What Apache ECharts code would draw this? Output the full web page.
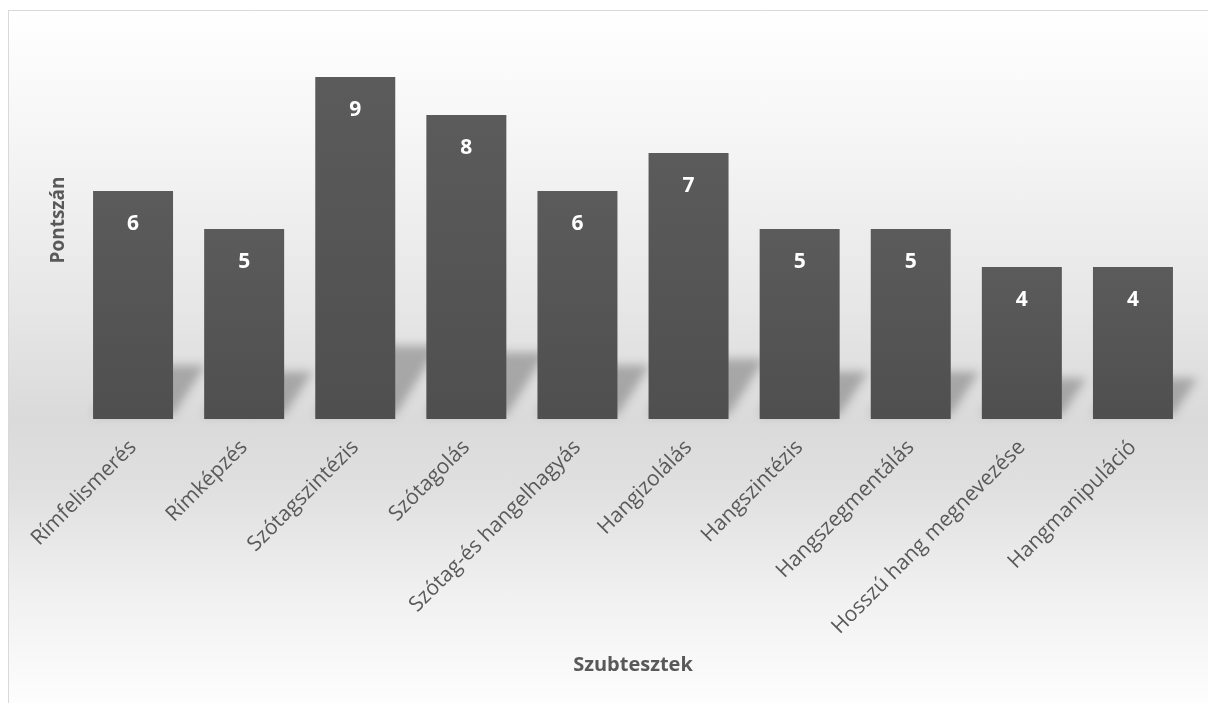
<!DOCTYPE html>
<html>
<head>
<meta charset="utf-8">
<script src="https://cdn.jsdelivr.net/npm/echarts@6/dist/echarts.min.js"></script>
<style>
html,body{margin:0;padding:0;background:#fff;}
#frame{position:absolute;left:8px;top:10px;width:1220px;height:720px;border:1px solid #d9d9d9;
background:linear-gradient(to bottom,#ffffff 0px,#f6f6f6 120px,#e6e6e6 300px,#dadada 410px,#e0e0e0 480px,#f0f0f0 580px,#fdfdfd 690px);}
#chart{position:absolute;left:0;top:0;width:1208px;height:703px;}
</style>
</head>
<body>
<div id="frame"></div>
<div id="chart"></div>
<script>
const categories = ['Rímfelismerés','Rímképzés','Szótagszintézis','Szótagolás','Szótag-és hangelhagyás','Hangizolálás','Hangszintézis','Hangszegmentálás','Hosszú hang megnevezése','Hangmanipuláció'];
const scores = [6,5,9,8,6,7,5,5,4,4];
const xAxisTitle = 'Szubtesztek';
const yAxisTitle = 'Pontszán';

const FONT = '"Open Sans", "Noto Sans", sans-serif';
const chart = echarts.init(document.getElementById('chart'), null, {renderer:'canvas'});

const barWidthRatio = 0.72;
const SHIFT = 3000;

chart.setOption({
  backgroundColor: 'transparent',
  animation: false,
  grid: {left: 77.5, right: 19.5, top: 39, bottom: 284, containLabel: false},
  xAxis: {
    type: 'category',
    data: categories,
    axisLine: {show: false},
    axisTick: {show: false},
    axisLabel: {rotate: 45, color: '#595959', fontFamily: FONT, fontSize: 21, margin: 25, interval: 0},
    name: xAxisTitle,
    nameLocation: 'middle',
    nameGap: 236,
    nameTextStyle: {color: '#595959', fontFamily: FONT, fontSize: 20, fontWeight: 'bold'}
  },
  yAxis: {
    type: 'value',
    min: 0, max: 10, interval: 1,
    axisLine: {show: false},
    axisTick: {show: false},
    axisLabel: {show: false},
    splitLine: {show: false},
    name: yAxisTitle,
    nameLocation: 'middle',
    nameGap: 9,
    nameRotate: 90,
    nameTextStyle: {color: '#595959', fontFamily: FONT, fontSize: 19, fontWeight: 'bold', padding:[0,0,0,18]}
  },
  series: [
    {
      type: 'custom',
      z: 1,
      silent: true,
      clip: false,
      data: scores.map((v,i)=>[i,v]),
      renderItem: function(params, api){
        const base = api.coord([api.value(0), 0]);
        const top = api.coord([api.value(0), api.value(1)]);
        const band = api.size([1,0])[0];
        const bw = band*barWidthRatio;
        const x0 = base[0]-bw/2 - SHIFT, x1 = base[0]+bw/2 - SHIFT;
        const hb = base[1]-top[1];
        const sh = 15 + 0.17*hb;
        const s = 0.6*sh;
        return {
          type: 'polygon',
          shape: {points: [[x0, base[1]-4],[x1, base[1]-4],[x1+s, base[1]-sh],[x0+s, base[1]-sh]]},
          style: {fill: '#000', shadowBlur: 10, shadowColor: 'rgba(60,60,60,0.34)', shadowOffsetX: SHIFT, shadowOffsetY: 0}
        };
      }
    },
    {
      type: 'bar',
      z: 2,
      data: scores,
      barCategoryGap: '28%',
      itemStyle: {
        color: new echarts.graphic.LinearGradient(0,0,0,1,[{offset:0,color:'#5b5b5b'},{offset:1,color:'#4f4f4f'}])
      },
      label: {
        show: true,
        position: 'insideTop',
        distance: 23,
        color: '#ffffff',
        fontFamily: FONT,
        fontSize: 21,
        fontWeight: 'bold'
      }
    }
  ]
});
</script>
</body>
</html>
